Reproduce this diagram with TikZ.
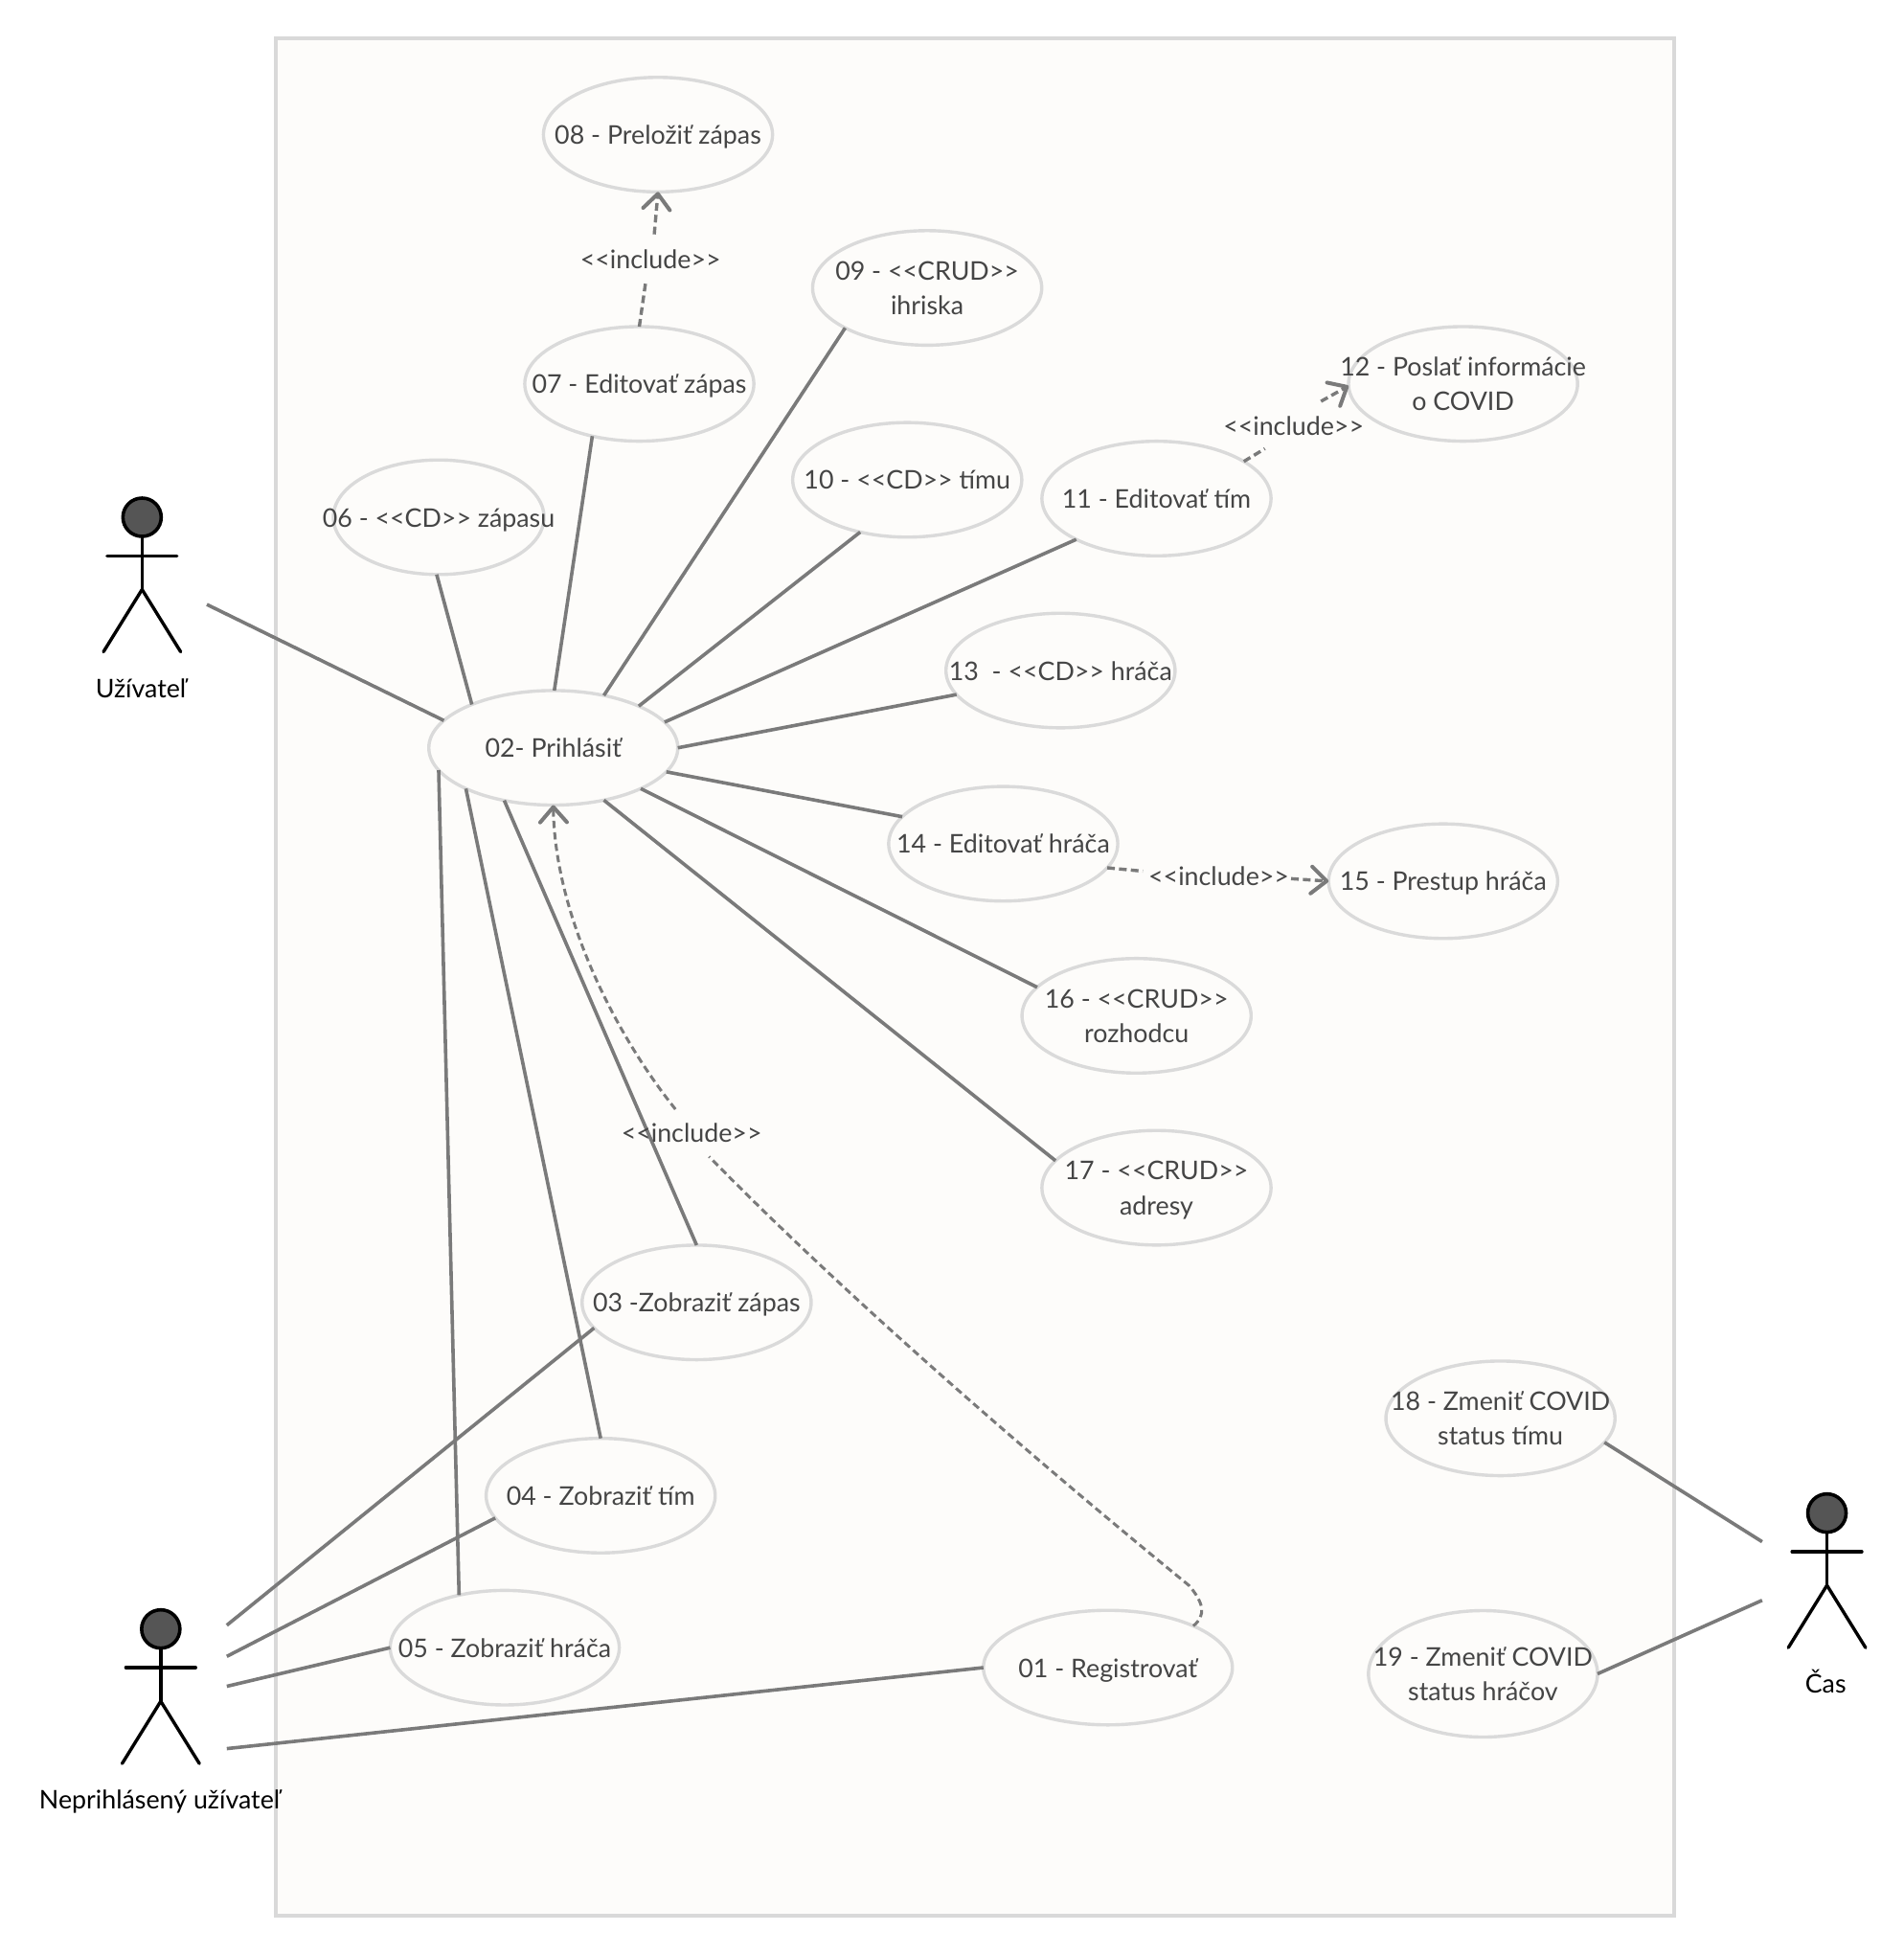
\documentclass[tikz,border=0pt]{standalone}
\usepackage{fontspec}
\setmainfont{Lato}
\usetikzlibrary{shapes.geometric,arrows.meta}
\definecolor{bgc}{HTML}{FDFCFA}
\definecolor{framec}{HTML}{D9D9D9}
\definecolor{elc}{HTML}{DADADA}
\definecolor{linec}{HTML}{7A7A7A}
\definecolor{txtc}{HTML}{454545}
\definecolor{headc}{HTML}{555555}
\newcommand{\lle}{<{}<}
\newcommand{\rre}{>{}>}
\newcommand{\lnstrut}{\rule[-3pt]{0pt}{16pt}}
\tikzset{
  ucase/.style={ellipse,draw=elc,line width=1.7pt,fill=bgc,inner sep=0pt,outer sep=0pt,minimum width=119.6pt,minimum height=59.8pt},
  bigcase/.style={ucase,minimum width=130pt},
  smallcase/.style={ucase,minimum width=110pt},
  uctext/.style={text=txtc,font=\fontsize{13.4}{18.2}\selectfont,align=center,inner sep=0pt},
  inclabel/.style={text=txtc,font=\fontsize{13.4}{18.2}\selectfont,inner sep=0pt},
  actortext/.style={text=black,font=\fontsize{13.4}{18.2}\selectfont,inner sep=0pt},
  assoc/.style={draw=linec,line width=1.8pt},
  depline/.style={draw=linec,line width=1.7pt,dash pattern=on 4pt off 2.2pt},
  deptip/.style={depline,-{Straight Barb[length=8pt,width=14pt,line width=2pt,round]}},
  curveline/.style={draw=linec,line width=1.5pt,dash pattern=on 3.8pt off 2.2pt},
  curvetip/.style={curveline,-{Straight Barb[length=8pt,width=14pt,line width=2pt,round]}},
  actorline/.style={draw=black,line width=1.7pt,line cap=round},
}
\newcommand{\ucnode}[5][ucase]{\node[#1,label={[uctext]center:\lnstrut #5\lnstrut}] (#2) at (#3,#4) {};}
\newcommand{\actorfig}[4]{%
  \begin{scope}[shift={(#2,#3)}]
    \draw[actorline] (0,16) -- (0,58);
    \draw[actorline] (-28,31) -- (28,31);
    \draw[actorline] (0,58) -- (-31,108);
    \draw[actorline] (0,58) -- (31,108);
    \node[ellipse,draw=black,line width=1.8pt,fill=headc,minimum width=20pt,minimum height=20pt,inner sep=0pt] (#1head) at (0,0) {};
    \node[actortext] (#1) at (-1,137) {\lnstrut #4};
  \end{scope}}
\begin{document}
\begin{tikzpicture}[x=0.6506pt,y=-0.6506pt]
\useasboundingbox (0,0) rectangle (1527.8,1567.8);
\fill[white] (0,0) rectangle (1527.8,1567.8);
\draw[framec,line width=2pt,fill=bgc] (221,31) rectangle (1343,1537);

\ucnode{u08}{528}{108}{08 - Preložiť zápas}
\ucnode{u09}{744}{231}{09 - \lle CRUD\rre\\ihriska}
\ucnode{u07}{513}{308}{07 - Editovať zápas}
\ucnode{u12}{1174}{308}{12 - Poslať informácie\\o COVID}
\ucnode{u10}{728}{385}{10 - \lle CD\rre\ tímu}
\ucnode{u11}{928}{400}{11 - Editovať tím}
\ucnode[smallcase]{u06}{352}{415}{06 - \lle CD\rre\ zápasu}
\ucnode{u13}{851}{538}{13 \ - \lle CD\rre\ hráča}
\ucnode[bigcase]{u02}{444}{600}{02- Prihlásiť}
\ucnode{u14}{805}{677}{14 - Editovať hráča}
\ucnode{u15}{1158}{707}{15 - Prestup hráča}
\ucnode{u16}{912}{815}{16 - \lle CRUD\rre\\rozhodcu}
\ucnode{u17}{928}{953}{17 - \lle CRUD\rre\\adresy}
\ucnode{u03}{559}{1045}{03 -Zobraziť zápas}
\ucnode{u18}{1204}{1138}{18 - Zmeniť COVID\\status tímu}
\ucnode{u04}{482}{1200}{04 - Zobraziť tím}
\ucnode{u05}{405}{1322}{05 - Zobraziť hráča}
\ucnode[bigcase]{u01}{889}{1338}{01 - Registrovať}
\node[ucase,minimum height=66pt,label={[uctext]center:\lnstrut 19 - Zmeniť COVID\\status hráčov\lnstrut}] (u19) at (1190,1343) {};

\actorfig{auser}{114}{415}{Užívateľ}
\actorfig{aguest}{129}{1307}{Neprihlásený užívateľ}
\actorfig{atime}{1466}{1214}{Čas}

% free ends near the actors
\coordinate (fa) at (166,485);
\coordinate (fb1) at (182,1304);
\coordinate (fb2) at (182,1329);
\coordinate (fb3) at (182,1353);
\coordinate (fb4) at (182,1403);
\coordinate (fc1) at (1414,1237);
\coordinate (fc2) at (1414,1284);

\draw[assoc] (fa) -- (u02.166.6);
\draw[assoc] (u06.268.7) -- (u02.152);
\draw[assoc] (u07.228) -- (u02.89);
\draw[assoc] (u09.206.9) -- (u02.46.4);
\draw[assoc] (u10.228.7) -- (u02.26.6);
\draw[assoc] (u11.207.3) -- (u02.13.1);
\draw[assoc] (u13.193) -- (u02.0);
\draw[assoc] (u14.165.2) -- (u02.-12.5);
\draw[assoc] (u16.164) -- (u02.-25.2);
\draw[assoc] (u17.165.6) -- (u02.-46.4);
\draw[assoc] (u03.north) -- (u02.227);
\draw[assoc] (u04.north) -- (u02.205.5);
\draw[assoc] (u05.131.4) -- (u02.191.9);
\draw[assoc] (fb1) -- (u03.194);
\draw[assoc] (fb2) -- (u04.192.4);
\draw[assoc] (fb3) -- (u05.west);
\draw[assoc] (fb4) -- (u01.west);
\draw[assoc] (u18.-13.5) -- (fc1);
\draw[assoc] (u19.east) -- (fc2);

% include labels
\node[inclabel] (i78) at (522,208) {\lle include\rre};
\node[inclabel] (i1112) at (1038,342) {\lle include\rre};
\node[inclabel] (i1415) at (978,703) {\lle include\rre};
\node[inclabel] (i012) at (555,909) {\lle include\rre};

\coordinate (g1) at (518,227);
\coordinate (g2) at (525,188);
\coordinate (g3) at (1015,360);
\coordinate (g4) at (1060,322);
\coordinate (g5) at (917,699);
\coordinate (g6) at (1036,705);
\coordinate (g7) at (569,928);
\coordinate (g8) at (542,890);
\coordinate (g9) at (954,1272);

\draw[depline] (u07.north) -- (g1);
\draw[deptip] (g2) -- (u08.south);
\draw[depline] (u11.23) -- (g3);
\draw[deptip] (g4) -- (u12.181);
\draw[depline] (u14.-13) -- (g5);
\draw[deptip] (g6) -- (u15.west);
\draw[curveline] (u01.26.2) .. controls (968,1296) and (966,1286) .. (g9) .. controls (900,1228) and (710,1072) .. (g7);
\draw[curvetip] (g8) .. controls (490,825) and (445,730) .. (u02.-90);
\end{tikzpicture}
\end{document}
